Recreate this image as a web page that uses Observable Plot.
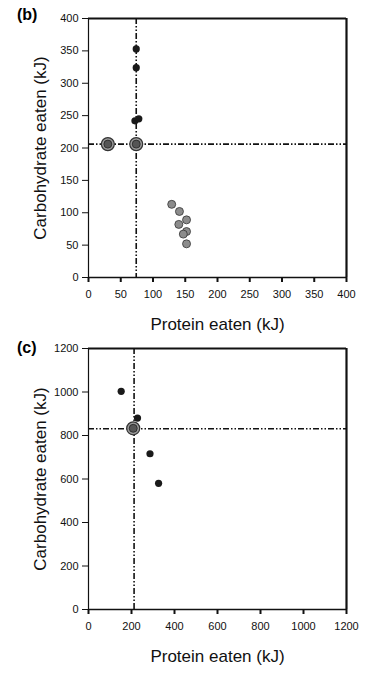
<!DOCTYPE html>
<html>
<head>
<meta charset="utf-8">
<script src="https://cdn.jsdelivr.net/npm/d3@7"></script>
<script src="https://cdn.jsdelivr.net/npm/@observablehq/plot@0.6"></script>
<style>
  body { margin: 0; background: #fff; font-family: "Liberation Sans", Arial, sans-serif; }
  #wrap { position: relative; width: 373px; height: 673px; }
  .panel { position: absolute; left: 0; }
  .tag { position: absolute; font-weight: bold; font-size: 16px; font-family: "Liberation Sans", Arial, sans-serif; }
  svg g[aria-label="x-axis label"] text, svg g[aria-label="y-axis label"] text { font-size: 17px; }
</style>
</head>
<body>
<div id="wrap"></div>
<script>
// ---- Panel (b) data ----
const bTicks = [0, 50, 100, 150, 200, 250, 300, 350, 400];
const bBlackX = [74, 74, 72, 78];
const bBlackY = [353, 324, 242, 245];
const bGreyX = [129, 141, 152, 140, 152, 147, 152];
const bGreyY = [113, 102, 89, 82, 71, 67, 52];
const bRingX = [30, 74];
const bRingY = [206, 206];
const bLineX = 74;
const bLineY = 206;

// ---- Panel (c) data ----
const cTicks = [0, 200, 400, 600, 800, 1000, 1200];
const cBlackX = [152, 228, 286, 326];
const cBlackY = [1003, 880, 716, 580];
const cRingX = [208];
const cRingY = [833];
const cLineX = 212;
const cLineY = 831;

const dash = "6,2,1.5,2,1.5,2";

function panel({ticks, max, blackX, blackY, greyX, greyY, ringX, ringY, lineX, lineY, height, marginTop, marginBottom}) {
  const black = blackX.map((x, i) => ({x, y: blackY[i]}));
  const grey = (greyX || []).map((x, i) => ({x, y: greyY[i]}));
  const ring = ringX.map((x, i) => ({x, y: ringY[i]}));
  return Plot.plot({
    width: 373,
    height,
    marginLeft: 88,
    marginRight: 27,
    marginTop,
    marginBottom,
    style: {fontFamily: "Liberation Sans, Arial, sans-serif", fontSize: "11px", color: "#111", background: "#fff"},
    x: {domain: [0, max]},
    y: {domain: [0, max]},
    marks: [
      Plot.axisX({ticks, tickFormat: d => String(d), tickSize: 5, tickPadding: 8, label: "Protein eaten (kJ)", labelAnchor: "center", labelArrow: "none", labelOffset: 52, strokeWidth: 2}),
      Plot.axisY({ticks, tickFormat: d => String(d), tickSize: 6, tickPadding: 4, label: "Carbohydrate eaten (kJ)", labelAnchor: "center", labelArrow: "none", labelOffset: 55}),
      Plot.ruleX([lineX], {stroke: "#111", strokeWidth: 1.6, strokeDasharray: dash}),
      Plot.ruleY([lineY], {stroke: "#111", strokeWidth: 1.6, strokeDasharray: dash}),
      Plot.ruleY([0], {stroke: "#111", strokeWidth: 1.5}),
      Plot.ruleX([0], {stroke: "#111", strokeWidth: 1.2}),
      Plot.ruleY([max], {stroke: "#111", strokeWidth: 2.2}),
      Plot.ruleX([max], {stroke: "#111", strokeWidth: 2.2}),
      Plot.dot(grey, {x: "x", y: "y", r: 4, fill: "#8c8c8c", stroke: "#333", strokeWidth: 0.8}),
      Plot.dot(black, {x: "x", y: "y", r: 3.6, fill: "#1a1a1a", stroke: "none"}),
      Plot.dot(ring, {x: "x", y: "y", r: 6.5, fill: "#9a9a9a", stroke: "#333", strokeWidth: 1.2}),
      Plot.dot(ring, {x: "x", y: "y", r: 4, fill: "#555", stroke: "#222", strokeWidth: 0.8})
    ]
  });
}

const wrap = document.getElementById("wrap");
const pb = panel({ticks: bTicks, max: 400, blackX: bBlackX, blackY: bBlackY, greyX: bGreyX, greyY: bGreyY,
  ringX: bRingX, ringY: bRingY, lineX: bLineX, lineY: bLineY, height: 335, marginTop: 18, marginBottom: 58});
pb.classList.add("panel"); pb.style.top = "0px";
wrap.appendChild(pb);
const pc = panel({ticks: cTicks, max: 1200, blackX: cBlackX, blackY: cBlackY,
  ringX: cRingX, ringY: cRingY, lineX: cLineX, lineY: cLineY, height: 338, marginTop: 13, marginBottom: 64});
pc.classList.add("panel"); pc.style.top = "335px";
wrap.appendChild(pc);

const tb = document.createElement("div");
tb.className = "tag"; tb.textContent = "(b)"; tb.style.left = "17px"; tb.style.top = "6px";
wrap.appendChild(tb);
const tc = document.createElement("div");
tc.className = "tag"; tc.textContent = "(c)"; tc.style.left = "17px"; tc.style.top = "339px";
wrap.appendChild(tc);
</script>
</body>
</html>
